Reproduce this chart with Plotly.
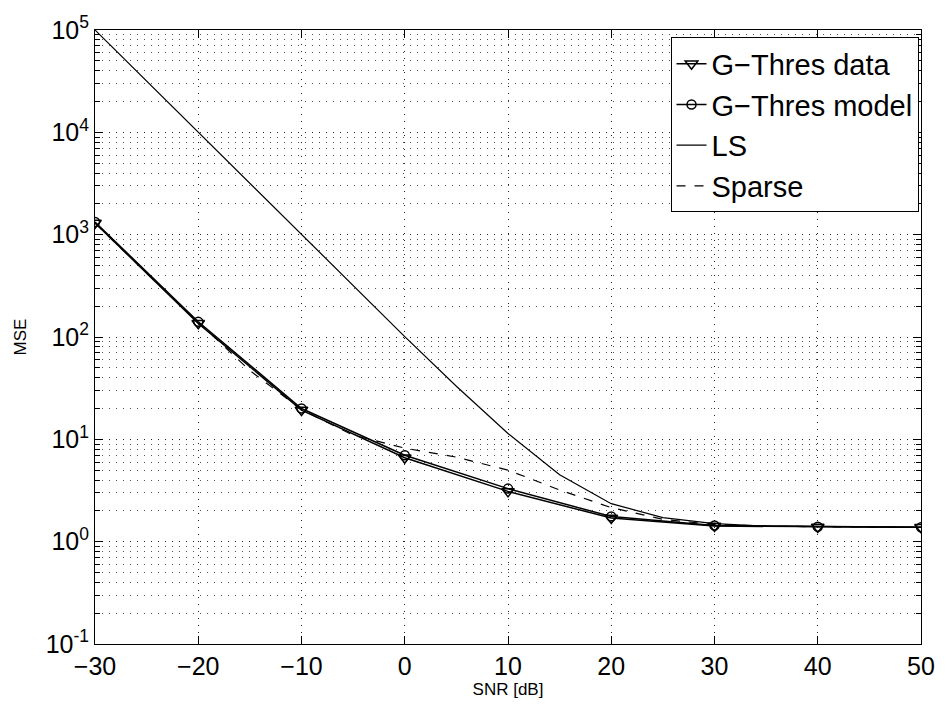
import plotly.graph_objects as go

snr = [-30, -20, -10, 0, 10, 20, 30, 40, 50]
gthres_data = [1300, 136, 19.3, 6.6, 3.1, 1.70, 1.42, 1.39, 1.38]
gthres_model = [1330, 141, 20.0, 7.0, 3.3, 1.76, 1.44, 1.40, 1.38]

snr_fine = [-30, -25, -20, -15, -10, -5, 0, 5, 10, 15, 20, 25, 30, 35, 40, 45, 50]
ls = [1.0e5, 3.17e4, 1.0e4, 3170, 1000, 318, 101, 33, 11.4, 4.5, 2.35, 1.72, 1.50, 1.42, 1.40, 1.39, 1.38]
sparse = [1300, 420, 140, 47, 19.5, 11.0, 8.2, 6.7, 5.0, 3.2, 2.15, 1.65, 1.47, 1.42, 1.40, 1.39, 1.38]

ytick_vals = [1e-1, 1e0, 1e1, 1e2, 1e3, 1e4, 1e5]
ytick_text = ["10<sup>-1</sup>", "10<sup>0</sup>", "10<sup>1</sup>", "10<sup>2</sup>",
              "10<sup>3</sup>", "10<sup>4</sup>", "10<sup>5</sup>"]
xtick_vals = [-30, -20, -10, 0, 10, 20, 30, 40, 50]
xtick_text = ["\u221230", "\u221220", "\u221210", "0", "10", "20", "30", "40", "50"]

fig = go.Figure()
fig.add_trace(go.Scatter(x=snr, y=gthres_data, name="G\u2212Thres data", mode="lines+markers",
                         line=dict(color="black", width=1.5),
                         marker=dict(symbol="triangle-down-open", size=11, color="black",
                                     line=dict(width=1.5))))
fig.add_trace(go.Scatter(x=snr, y=gthres_model, name="G\u2212Thres model", mode="lines+markers",
                         line=dict(color="black", width=1.5),
                         marker=dict(symbol="circle-open", size=9, color="black",
                                     line=dict(width=1.5))))
fig.add_trace(go.Scatter(x=snr_fine, y=ls, name="LS", mode="lines",
                         line=dict(color="black", width=1.2)))
fig.add_trace(go.Scatter(x=snr_fine, y=sparse, name="Sparse", mode="lines",
                         line=dict(color="black", width=1.2, dash="dash")))

font_family = "Liberation Sans, Arial, Helvetica, sans-serif"
fig.update_layout(
    width=947, height=708,
    margin=dict(l=95, r=20, t=25, b=62),
    paper_bgcolor="white", plot_bgcolor="white",
    font=dict(family=font_family, color="black"),
    showlegend=True,
    legend=dict(x=0.997, y=0.988, xanchor="right", yanchor="top",
                bordercolor="black", borderwidth=1, bgcolor="white",
                font=dict(size=29, family=font_family), tracegroupgap=0,
                itemwidth=30),
)
fig.update_xaxes(
    range=[-30, 50], tickvals=xtick_vals, ticktext=xtick_text,
    tickfont=dict(size=25), ticks="inside", ticklen=8, tickcolor="black",
    showline=True, linecolor="black", linewidth=1, mirror="allticks",
    showgrid=True, gridcolor="#222", griddash="1px,6px", gridwidth=1,
    zeroline=False,
    title=dict(text="SNR [dB]", font=dict(size=17), standoff=4),
)
fig.update_yaxes(
    type="log", range=[-1, 5], tickvals=ytick_vals, ticktext=ytick_text,
    tickfont=dict(size=25), ticks="inside", ticklen=8, tickcolor="black",
    showline=True, linecolor="black", linewidth=1, mirror="allticks",
    showgrid=True, gridcolor="#222", griddash="1px,6px", gridwidth=1,
    minor=dict(ticks="inside", ticklen=5, tickcolor="black", dtick="D1",
               showgrid=True, gridcolor="#555", griddash="1px,6px", gridwidth=1),
    zeroline=False,
    title=dict(text="MSE", font=dict(size=17), standoff=14),
)

fig.write_html("out.html")
